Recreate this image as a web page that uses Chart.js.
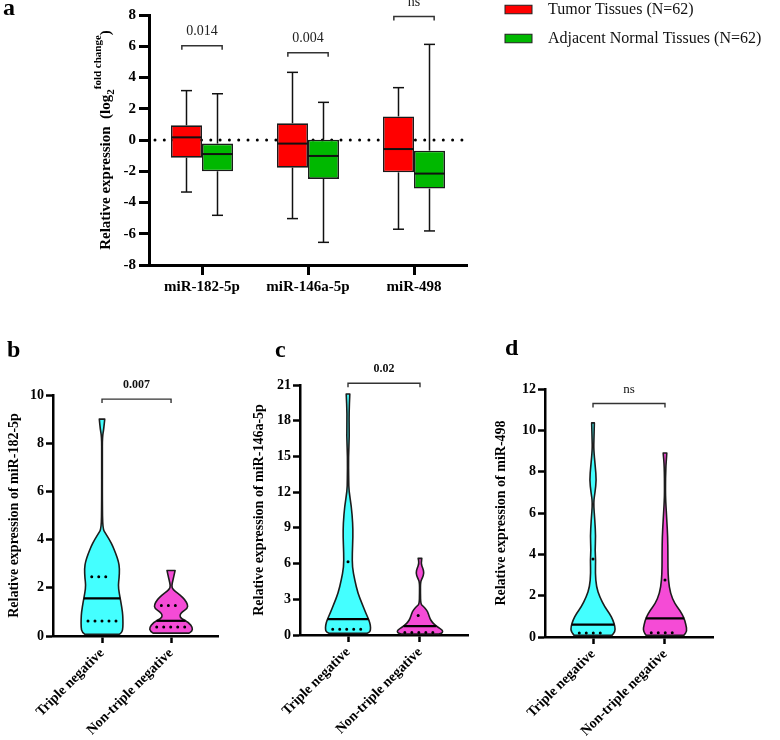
<!DOCTYPE html>
<html>
<head>
<meta charset="utf-8">
<script src="https://cdn.jsdelivr.net/npm/chart.js@4.4.0/dist/chart.umd.min.js"></script>
<style>
  body { margin: 0; background: #fff; }
  #wrap { position: relative; width: 780px; height: 740px; }
  canvas { position: absolute; }
</style>
</head>
<body>
<div id="wrap">
  <canvas id="boxChart" width="780" height="300" style="left:0;top:0"></canvas>
  <canvas id="violin182" width="245" height="400" style="left:0;top:340px"></canvas>
  <canvas id="violin146" width="242" height="400" style="left:245px;top:340px"></canvas>
  <canvas id="violin498" width="293" height="400" style="left:487px;top:340px"></canvas>
</div>
<script>
// ---- panel a: relative expression, log2 fold change ----
const genes = ['miR-182-5p', 'miR-146a-5p', 'miR-498'];
const tumorMin = [-3.33, -5.03, -5.71];
const tumorQ1 = [-1.13, -1.77, -2.07];
const tumorMedian = [0.17, -0.23, -0.58];
const tumorQ3 = [0.94, 1.07, 1.51];
const tumorMax = [3.16, 4.33, 3.35];
const normalMin = [-4.82, -6.55, -5.82];
const normalQ1 = [-2.0, -2.49, -3.11];
const normalMedian = [-0.9, -1.02, -2.15];
const normalQ3 = [-0.23, 0.02, -0.68];
const normalMax = [2.96, 2.41, 6.12];
const boxPValues = ['0.014', '0.004', 'ns'];

// ---- panels b-d: violins (value levels + relative density) ----
const groups = ['Triple negative', 'Non-triple negative'];

const tn182Levels = [0.07, 0.15, 0.35, 0.7, 1.0, 1.4, 1.8, 2.1, 2.4, 2.8, 3.1, 3.4, 3.7, 4.0, 4.25, 4.45, 5.5, 7.5, 8.25, 8.6, 9.0];
const tn182Density = [0.76, 0.89, 0.93, 0.93, 0.91, 0.84, 0.76, 0.72, 0.76, 0.78, 0.73, 0.62, 0.49, 0.33, 0.16, 0.03, 0.015, 0.015, 0.015, 0.08, 0.12];
const tn182Quartiles = [0.62, 1.56, 2.46];
const ntn182Levels = [0.12, 0.2, 0.35, 0.55, 0.73, 0.86, 1.0, 1.15, 1.3, 1.5, 1.7, 1.85, 2.0, 2.2, 2.45, 2.72];
const ntn182Density = [0.8, 0.93, 0.96, 0.8, 0.44, 0.38, 0.49, 0.73, 0.74, 0.62, 0.4, 0.18, 0.03, 0.05, 0.12, 0.18];
const ntn182Quartiles = [0.37, 0.63, 1.27];

const tn146Levels = [0.15, 0.25, 0.45, 0.8, 1.26, 1.8, 2.65, 3.5, 4.6, 5.7, 6.86, 8.3, 9.4, 10.8, 12.1, 13.0, 15.0, 16.7, 18.6, 20.25];
const tn146Density = [0.85, 0.97, 1.0, 1.0, 0.93, 0.8, 0.62, 0.44, 0.3, 0.19, 0.19, 0.22, 0.21, 0.15, 0.04, 0.03, 0.02, 0.06, 0.04, 0.08];
const tn146Quartiles = [0.48, 1.33, 6.16];
const ntn146Levels = [0.09, 0.14, 0.28, 0.48, 0.64, 0.84, 1.12, 1.4, 1.8, 2.1, 2.4, 2.6, 3.5, 4.48, 4.8, 5.2, 5.6, 6.0, 6.44];
const ntn146Density = [0.84, 0.96, 1.02, 0.96, 0.8, 0.67, 0.52, 0.44, 0.37, 0.3, 0.15, 0.03, 0.02, 0.02, 0.11, 0.18, 0.13, 0.04, 0.08];
const ntn146Quartiles = [0.22, 0.75, 1.63];

const tn498Levels = [0.08, 0.25, 0.49, 0.81, 1.13, 1.46, 1.94, 2.42, 3.08, 3.72, 4.2, 4.86, 5.67, 6.5, 7.0, 7.6, 8.26, 9.07, 9.55, 10.36];
const tn498Density = [0.84, 0.98, 0.98, 0.89, 0.74, 0.52, 0.3, 0.15, 0.1, 0.12, 0.09, 0.12, 0.08, 0.02, 0.09, 0.15, 0.1, 0.03, 0.04, 0.06];
const tn498Quartiles = [0.19, 0.6, 3.77];
const ntn498Levels = [0.08, 0.28, 0.6, 0.95, 1.27, 1.6, 2.1, 2.75, 3.4, 4.05, 4.86, 5.67, 6.6, 7.1, 8.26, 8.9];
const ntn498Density = [0.84, 0.98, 0.93, 0.84, 0.67, 0.44, 0.24, 0.15, 0.13, 0.13, 0.12, 0.08, 0.03, 0.02, 0.03, 0.08];
const ntn498Quartiles = [0.21, 0.9, 2.76];

const SERIF = "'Liberation Serif', 'Times New Roman', serif";
Chart.defaults.font.family = SERIF;
Chart.defaults.color = '#000';

function interp(xs, ys, v) {
    if (v <= xs[0]) return ys[0];
    for (let i = 1; i < xs.length; i++) {
        if (v <= xs[i]) {
            const t = (v - xs[i - 1]) / (xs[i] - xs[i - 1]);
            return ys[i - 1] + t * (ys[i] - ys[i - 1]);
        }
    }
    return ys[ys.length - 1];
}

function axisStyle(width, tickLen) {
    return {
        grid: { display: true, drawOnChartArea: false, offset: false, tickLength: tickLen, tickWidth: width, tickColor: '#000' },
        border: { display: true, width: width, color: '#000' },
    };
}

// box plot extras: zero line, whiskers, medians, brackets, legend, y label
const boxPlugin = {
    id: 'boxExtras',
    beforeDatasetsDraw(chart) {
        const { ctx, chartArea: a, scales: { y } } = chart;
        const y0 = y.getPixelForValue(0);
        ctx.save();
        ctx.strokeStyle = '#000';
        ctx.lineWidth = 3;
        ctx.lineCap = 'round';
        ctx.setLineDash([0, 9.3]);
        ctx.beginPath();
        ctx.moveTo(a.left + 6, y0);
        ctx.lineTo(a.right - 2, y0);
        ctx.stroke();
        ctx.restore();
    },
    afterDatasetsDraw(chart) {
        const { ctx, scales: { x, y } } = chart;
        const stats = [[tumorMin, tumorMedian, tumorMax], [normalMin, normalMedian, normalMax]];
        const line = (x1, y1, x2, y2) => { ctx.beginPath(); ctx.moveTo(x1, y1); ctx.lineTo(x2, y2); ctx.stroke(); };
        ctx.save();
        ctx.strokeStyle = '#111';
        chart.data.datasets.forEach((ds, d) => {
            const meta = chart.getDatasetMeta(d);
            meta.data.forEach((bar, i) => {
                const { x: bx, width } = bar.getProps(['x', 'width'], true);
                const [lo, hi] = ds.data[i];
                const [mins, meds, maxs] = stats[d];
                ctx.lineWidth = 1.5;
                line(bx, y.getPixelForValue(hi), bx, y.getPixelForValue(maxs[i]));
                line(bx - 5.5, y.getPixelForValue(maxs[i]), bx + 5.5, y.getPixelForValue(maxs[i]));
                line(bx, y.getPixelForValue(lo), bx, y.getPixelForValue(mins[i]));
                line(bx - 5.5, y.getPixelForValue(mins[i]), bx + 5.5, y.getPixelForValue(mins[i]));
                ctx.lineWidth = 2;
                line(bx - width / 2, y.getPixelForValue(meds[i]), bx + width / 2, y.getPixelForValue(meds[i]));
            });
        });
        // significance brackets (heights in axis units, as placed in the figure)
        const bracketAt = [6.03, 5.59, 7.9];
        const bw = chart.getDatasetMeta(0).data[0].width;
        ctx.strokeStyle = '#333';
        ctx.lineWidth = 1.5;
        ctx.fillStyle = '#222';
        ctx.font = '14px ' + SERIF;
        ctx.textAlign = 'center';
        ctx.textBaseline = 'middle';
        genes.forEach((g, i) => {
            const cx = x.getPixelForValue(i);
            const yb = y.getPixelForValue(bracketAt[i]);
            const half = bw * 0.65;
            ctx.beginPath();
            ctx.moveTo(cx - half, yb + 4);
            ctx.lineTo(cx - half, yb);
            ctx.lineTo(cx + half, yb);
            ctx.lineTo(cx + half, yb + 4);
            ctx.stroke();
            ctx.fillText(boxPValues[i], cx, yb - 14);
        });
        ctx.restore();
    },
    afterDraw(chart) {
        const { ctx, chartArea: a } = chart;
        ctx.save();
        // panel letter
        ctx.fillStyle = '#000';
        ctx.font = 'bold 24px ' + SERIF;
        ctx.textBaseline = 'alphabetic';
        ctx.fillText('a', 3, 15);
        // legend
        ctx.font = '16px ' + SERIF;
        ctx.textBaseline = 'middle';
        chart.data.datasets.forEach((ds, d) => {
            const ly = 9.5 + d * 29;
            ctx.fillStyle = ds.backgroundColor;
            ctx.fillRect(505, ly - 4.25, 27, 8.5);
            ctx.strokeStyle = '#222';
            ctx.lineWidth = 1;
            ctx.strokeRect(505, ly - 4.25, 27, 8.5);
            ctx.fillStyle = '#111';
            ctx.fillText(ds.label, 548, ly);
        });
        // y axis title with sub/superscript
        const parts = [
            { t: 'Relative expression  (log', size: 15, dy: 0 },
            { t: '2', size: 11, dy: 4 },
            { t: 'fold change', size: 11, dy: -9 },
            { t: ')', size: 15, dy: 0 },
        ];
        let total = 0;
        parts.forEach(p => { ctx.font = 'bold ' + p.size + 'px ' + SERIF; p.w = ctx.measureText(p.t).width; total += p.w; });
        ctx.translate(110, (a.top + a.bottom) / 2);
        ctx.rotate(-Math.PI / 2);
        ctx.textAlign = 'left';
        ctx.textBaseline = 'alphabetic';
        ctx.fillStyle = '#000';
        let px = -total / 2;
        parts.forEach(p => {
            ctx.font = 'bold ' + p.size + 'px ' + SERIF;
            ctx.fillText(p.t, px, p.dy);
            px += p.w;
        });
        ctx.restore();
    },
};

new Chart(document.getElementById('boxChart'), {
    type: 'bar',
    data: {
        labels: genes,
        datasets: [
            {
                label: 'Tumor Tissues (N=62)',
                data: tumorQ1.map((q, i) => [q, tumorQ3[i]]),
                backgroundColor: '#FF0000',
                borderColor: '#1a1a1a',
                borderWidth: 1.6,
                borderSkipped: false,
                categoryPercentage: 0.585,
                barPercentage: 1,
            },
            {
                label: 'Adjacent Normal Tissues (N=62)',
                data: normalQ1.map((q, i) => [q, normalQ3[i]]),
                backgroundColor: '#00B800',
                borderColor: '#1a1a1a',
                borderWidth: 1.6,
                borderSkipped: false,
                categoryPercentage: 0.585,
                barPercentage: 1,
            },
        ],
    },
    options: {
        responsive: false,
        animation: false,
        events: [],
        layout: { padding: { top: 15, right: 313, left: 0, bottom: 0 } },
        plugins: { legend: { display: false }, tooltip: { enabled: false } },
        scales: {
            x: {
                ...axisStyle(3, 10),
                ticks: { font: { size: 15, weight: 'bold' }, padding: 3 },
                afterFit: (s) => { s.height = 35; },
            },
            y: {
                ...axisStyle(3, 10),
                min: -8,
                max: 8,
                ticks: { stepSize: 2, font: { size: 15, weight: 'bold' }, padding: 3 },
                afterFit: (s) => { s.width = 149; },
            },
        },
    },
    plugins: [boxPlugin],
});

// violin panels
function violinChart(id, cfg) {
    const violins = cfg.violins;
    const half = (v, level) => interp(v.levels, v.density, level) * cfg.maxHalf;
    const datasets = [];
    violins.forEach((v, i) => {
        const [q1, med, q3] = v.quartiles;
        const wm = half(v, med);
        datasets.push({
            label: groups[i] + ' median',
            data: [{ x: i - wm, y: med }, { x: i + wm, y: med }],
            showLine: true, borderColor: '#000', borderWidth: 2.2, pointRadius: 0,
        });
        [q1, q3].forEach((q) => {
            const wq = Math.max(half(v, q) - cfg.dotInset, 0);
            datasets.push({
                label: groups[i] + ' quartile',
                data: [{ x: i - wq, y: q }, { x: i + wq, y: q }],
                showLine: true, borderColor: '#000', borderWidth: 3, pointRadius: 0,
                borderDash: [0, 7], borderCapStyle: 'round',
            });
        });
    });

    const smooth = (ctx, pts, first) => {
        if (first) ctx.moveTo(pts[0][0], pts[0][1]); else ctx.lineTo(pts[0][0], pts[0][1]);
        for (let k = 1; k < pts.length - 1; k++) {
            const mx = (pts[k][0] + pts[k + 1][0]) / 2, my = (pts[k][1] + pts[k + 1][1]) / 2;
            ctx.quadraticCurveTo(pts[k][0], pts[k][1], mx, my);
        }
        const last = pts[pts.length - 1];
        ctx.lineTo(last[0], last[1]);
    };

    const plugin = {
        id: 'violinShapes',
        beforeDatasetsDraw(chart) {
            const { ctx, scales: { x, y } } = chart;
            ctx.save();
            violins.forEach((v, i) => {
                const left = [], right = [];
                v.levels.forEach((lv, k) => {
                    const w = v.density[k] * cfg.maxHalf;
                    left.push([x.getPixelForValue(i - w), y.getPixelForValue(lv)]);
                    right.push([x.getPixelForValue(i + w), y.getPixelForValue(lv)]);
                });
                ctx.beginPath();
                smooth(ctx, left, true);
                smooth(ctx, right.reverse(), false);
                ctx.closePath();
                ctx.fillStyle = v.color;
                ctx.fill();
                ctx.strokeStyle = '#1c1c1c';
                ctx.lineWidth = 1.6;
                ctx.lineJoin = 'round';
                ctx.stroke();
            });
            ctx.restore();
        },
        afterDraw(chart) {
            const { ctx, scales: { x, y } } = chart;
            ctx.save();
            const x0 = x.getPixelForValue(0), x1 = x.getPixelForValue(1);
            const yb = y.getPixelForValue(cfg.bracketLevel);
            ctx.strokeStyle = '#333';
            ctx.lineWidth = 1.4;
            ctx.beginPath();
            ctx.moveTo(x0, yb + 4);
            ctx.lineTo(x0, yb);
            ctx.lineTo(x1, yb);
            ctx.lineTo(x1, yb + 4);
            ctx.stroke();
            ctx.fillStyle = '#111';
            ctx.font = cfg.pFont + SERIF;
            ctx.textAlign = 'center';
            ctx.textBaseline = 'middle';
            ctx.fillText(cfg.pText, (x0 + x1) / 2, yb - 14);
            ctx.fillStyle = '#000';
            ctx.font = 'bold 24px ' + SERIF;
            ctx.textAlign = 'left';
            ctx.textBaseline = 'alphabetic';
            ctx.fillText(cfg.letter, cfg.letterX, cfg.letterY);
            ctx.restore();
        },
    };

    new Chart(document.getElementById(id), {
        type: 'scatter',
        data: { datasets },
        options: {
            responsive: false,
            animation: false,
            events: [],
            layout: { padding: { top: cfg.top, right: cfg.right, left: 0, bottom: 0 } },
            plugins: { legend: { display: false }, tooltip: { enabled: false } },
            scales: {
                x: {
                    type: 'linear',
                    ...axisStyle(2.5, 7),
                    min: cfg.xMin,
                    max: cfg.xMax,
                    afterBuildTicks: (s) => { s.ticks = [{ value: 0 }, { value: 1 }]; },
                    ticks: {
                        autoSkip: false, minRotation: 45, maxRotation: 45, padding: 2,
                        font: { size: 14, weight: 'bold' },
                        callback: (val) => groups[val],
                    },
                    afterFit: (s) => { s.height = cfg.xHeight; },
                },
                y: {
                    ...axisStyle(2.5, 7),
                    min: 0,
                    max: cfg.yMax,
                    ticks: { stepSize: cfg.yStep, font: { size: 14, weight: 'bold' }, padding: 2 },
                    title: { display: true, text: cfg.title, font: { size: 14, weight: 'bold' }, padding: { top: 6, bottom: 0 } },
                    afterFit: (s) => { s.width = cfg.left; },
                },
            },
        },
        plugins: [plugin],
    });
}

const CYAN = '#44FFFF';
const PINK = '#F54BD6';

violinChart('violin182', {
    violins: [
        { levels: tn182Levels, density: tn182Density, quartiles: tn182Quartiles, color: CYAN },
        { levels: ntn182Levels, density: ntn182Density, quartiles: ntn182Quartiles, color: PINK },
    ],
    maxHalf: 0.326, dotInset: 0.1,
    xMin: -0.71, xMax: 1.68, yMax: 10, yStep: 2,
    left: 53, right: 27, top: 55, xHeight: 104,
    title: 'Relative expression of miR-182-5p',
    bracketLevel: 9.83, pText: '0.007', pFont: 'bold 12px ',
    letter: 'b', letterX: 7, letterY: 17,
});

violinChart('violin146', {
    violins: [
        { levels: tn146Levels, density: tn146Density, quartiles: tn146Quartiles, color: CYAN },
        { levels: ntn146Levels, density: ntn146Density, quartiles: ntn146Quartiles, color: PINK },
    ],
    maxHalf: 0.3125, dotInset: 0.1,
    xMin: -0.667, xMax: 1.667, yMax: 21, yStep: 3,
    left: 55, right: 19, top: 45, xHeight: 105,
    title: 'Relative expression of miR-146a-5p',
    bracketLevel: 21.15, pText: '0.02', pFont: 'bold 12px ',
    letter: 'c', letterX: 30, letterY: 17,
});

violinChart('violin498', {
    violins: [
        { levels: tn498Levels, density: tn498Density, quartiles: tn498Quartiles, color: CYAN },
        { levels: ntn498Levels, density: ntn498Density, quartiles: ntn498Quartiles, color: PINK },
    ],
    maxHalf: 0.3125, dotInset: 0.1,
    xMin: -0.667, xMax: 1.667, yMax: 12, yStep: 2,
    left: 58, right: 67, top: 49, xHeight: 103,
    title: 'Relative expression of miR-498',
    bracketLevel: 11.3, pText: 'ns', pFont: '13px ',
    letter: 'd', letterX: 18, letterY: 15,
});
</script>
</body>
</html>
